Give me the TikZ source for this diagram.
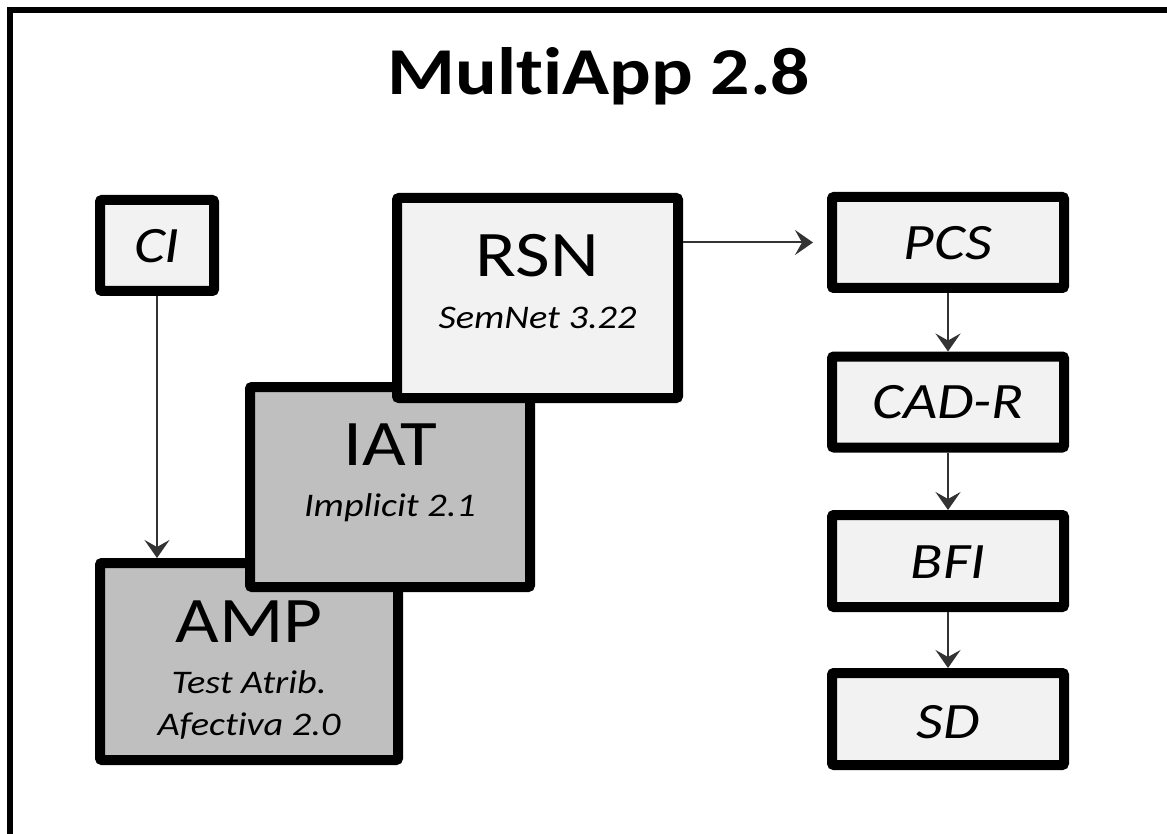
\documentclass[tikz,border=0pt]{standalone}
\usepackage{fontspec}
\setmainfont[Ligatures=NoCommon, FakeStretch=1.16]{Carlito}
\usetikzlibrary{arrows.meta}
\definecolor{boxlight}{HTML}{F2F2F2}
\definecolor{boxdark}{HTML}{BFBFBF}
\definecolor{wire}{HTML}{333333}
\tikzset{
  box/.style={draw=black, line width=10pt, rounded corners=2pt, inner sep=0pt},
  lightbox/.style={box, fill=boxlight},
  darkbox/.style={box, fill=boxdark},
  bigtext/.style={anchor=base, inner sep=0pt, font=\fontsize{65}{65}\selectfont},
  subtext/.style={anchor=base, inner sep=0pt, font=\fontsize{33}{33}\selectfont\itshape},
  chaintext/.style={anchor=base, inner sep=0pt, font=\fontsize{51}{51}\selectfont\itshape},
  link/.style={draw=wire, line width=2pt, -{Stealth[length=18pt,width=25pt,inset=7pt]}}
}
\begin{document}
\begin{tikzpicture}[x=1pt, y=-1pt]
  \useasboundingbox (0,0) rectangle (1167,834);
  \clip (0,0) rectangle (1167,834);
  \fill[white] (0,0) rectangle (1167,834);
  % outer frame: only its left and top sides fall inside the page
  \draw[line width=6pt] (10,860) -- (10,10.5) -- (1190,10.5);

  % title
  \node[anchor=base, inner sep=0pt, font=\fontsize{67}{67}\selectfont\bfseries] (title) at (599,95) {MultiApp 2.8};

  % stacked instruments
  \node[lightbox, minimum width=114pt, minimum height=91pt] (CI) at (157,245.5) {};
  \node[darkbox, minimum width=298pt, minimum height=197pt] (AMP) at (249,661.5) {};
  \node[darkbox, minimum width=280pt, minimum height=200pt] (IAT) at (390,487) {};
  \node[lightbox, minimum width=281pt, minimum height=200pt] (RSN) at (537.5,298) {};

  \node[chaintext] (CIt) at (157,263) {CI};
  \node[bigtext] (AMPt) at (249,642) {AMP};
  \node[subtext] (AMPs1) at (249,693) {Test Atrib.};
  \node[subtext] (AMPs2) at (249,735) {Afectiva 2.0};
  \node[bigtext] (IATt) at (390,465) {IAT};
  \node[subtext] (IATs) at (390,516) {Implicit 2.1};
  \node[bigtext] (RSNt) at (537.5,277) {RSN};
  \node[subtext] (RSNs) at (537.5,328) {SemNet 3.22};

  % questionnaire chain
  \node[lightbox, minimum width=232pt, minimum height=91pt] (PCS) at (948,242.5) {};
  \node[lightbox, minimum width=232pt, minimum height=91pt] (CADR) at (948,402) {};
  \node[lightbox, minimum width=232pt, minimum height=92pt] (BFI) at (948,561) {};
  \node[lightbox, minimum width=232pt, minimum height=92pt] (SD) at (948,719) {};

  \node[chaintext] (PCSt) at (948,260) {PCS};
  \node[chaintext] (CADRt) at (948,418) {CAD-R};
  \node[chaintext] (BFIt) at (948,578) {BFI};
  \node[chaintext] (SDt) at (948,738) {SD};

  % connectors
  \draw[link] (CI.south) -- (CI.south |- AMP.north);
  \draw[link, shorten >=14pt] (RSN.east |- PCS.west) -- (PCS.west);
  \draw[link] (PCS) -- (CADR);
  \draw[link] (CADR) -- (BFI);
  \draw[link] (BFI) -- (SD);
\end{tikzpicture}
\end{document}
